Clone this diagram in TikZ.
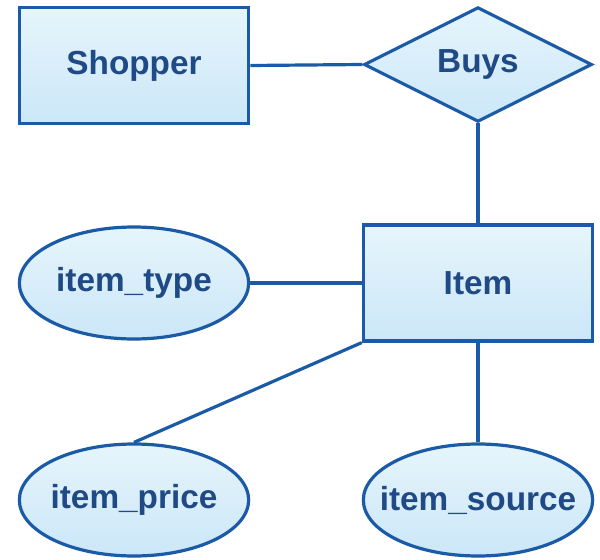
\documentclass[tikz,border=0pt]{standalone}
\usepackage{fontspec}
\setmainfont{Liberation Sans}
\usetikzlibrary{shapes.geometric}
\definecolor{edgeblue}{HTML}{1B5AA6}
\definecolor{textblue}{HTML}{1F4A85}
\definecolor{filltop}{HTML}{E6F5FB}
\definecolor{fillbot}{HTML}{CBE7F8}
\newcommand{\zw}[1]{\makebox[0pt]{#1}}
\tikzset{
  erbase/.style={draw=edgeblue, line width=2.4pt, top color=filltop, bottom color=fillbot,
    font=\fontsize{25}{29}\selectfont\bfseries, text=textblue, inner sep=0pt},
  entity/.style={erbase, rectangle, minimum width=172pt, minimum height=87pt},
  relation/.style={erbase, diamond, aspect=2, minimum width=171pt, minimum height=86pt},
  attr/.style={erbase, ellipse, minimum width=172pt, minimum height=84pt},
  link/.style={draw=edgeblue, line width=2.4pt}
}
\begin{document}
\begin{tikzpicture}[x=0.75pt, y=-0.75pt]
\useasboundingbox (0,0) rectangle (600,560);
\node[entity] (shopper) at (134,65.5) {Shopper};
\node[relation] (buys) at (478,64.5) {\zw{Buys}};
\node[entity] (item) at (478,283) {Item};
\node[attr] (itype) at (134,283) {\zw{item\_type}};
\node[attr] (iprice) at (134,500) {\zw{item\_price}};
\node[attr] (isource) at (478,500) {\zw{item\_source}};
\draw[link] (shopper.east) -- (buys.west);
\draw[link] (buys.south) -- (item.north);
\draw[link] (itype.east) -- (item.west);
\draw[link] (item.south west) -- (iprice.north);
\draw[link] (item.south) -- (isource.north);
\end{tikzpicture}
\end{document}
